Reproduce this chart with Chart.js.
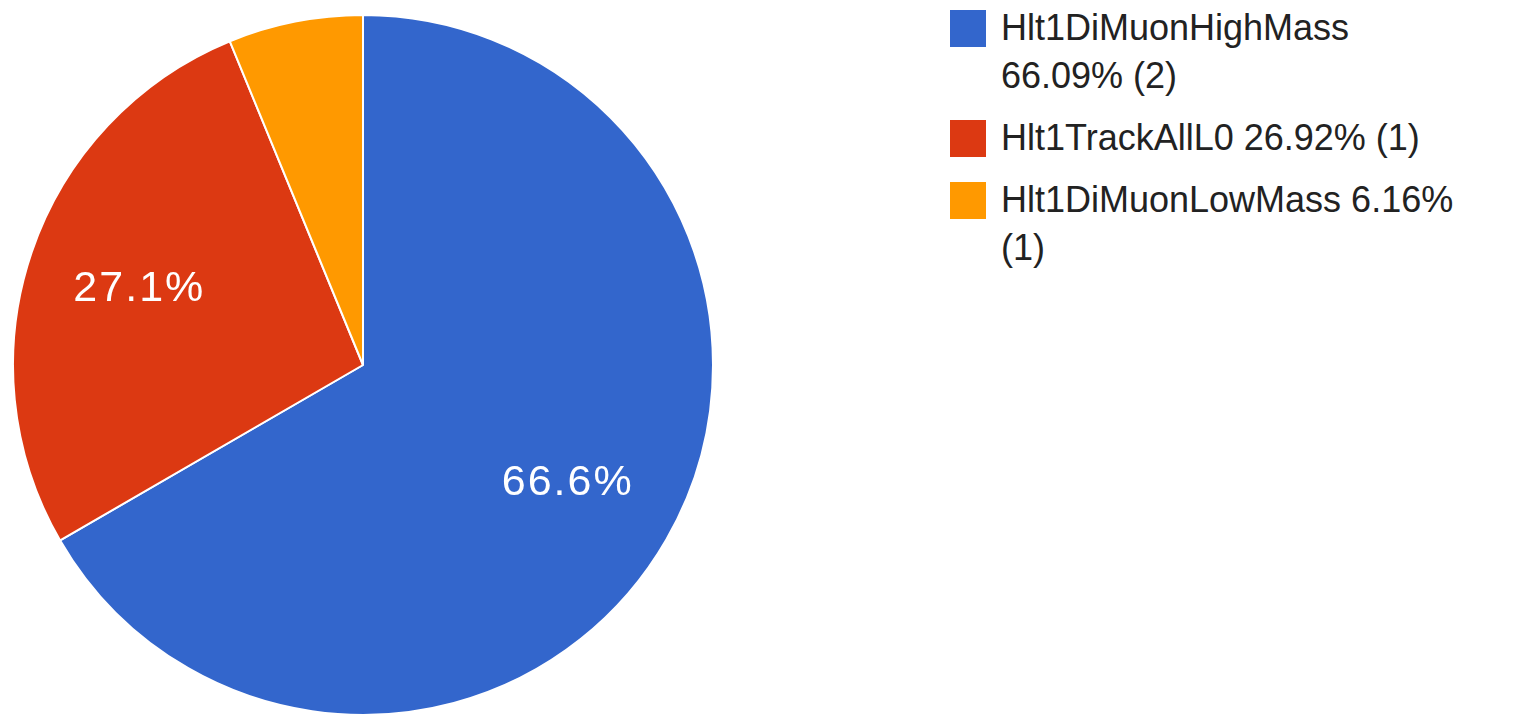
<!DOCTYPE html>
<html>
<head>
<meta charset="utf-8">
<script src="https://cdn.jsdelivr.net/npm/chart.js@4"></script>
<style>
  html, body { margin: 0; padding: 0; background: #fff; overflow: hidden; }
  body { width: 1515px; height: 714px; position: relative; font-family: Arial, "Liberation Sans", sans-serif; }
  #pieBox { position: absolute; left: 12px; top: 14px; width: 702px; height: 702px; }
  #legend { position: absolute; left: 950px; top: 4px; }
  .item { display: flex; align-items: flex-start; margin-bottom: 14px; }
  .swatch { width: 36px; height: 37px; margin-top: 6px; flex: none; }
  .txt { margin-left: 15px; width: 462px; font-size: 36px; line-height: 48px; color: #222; }
</style>
</head>
<body>
<div id="pieBox"><canvas id="pie"></canvas></div>
<div id="legend"></div>
<script>
const labels = ['Hlt1DiMuonHighMass', 'Hlt1TrackAllL0', 'Hlt1DiMuonLowMass'];
const shares = [66.09, 26.92, 6.16];
const counts = [2, 1, 1];
const colors = ['#3366CC', '#DC3912', '#FF9900'];

// legend built from the same arrays
const legendEl = document.getElementById('legend');
labels.forEach((lab, i) => {
  const row = document.createElement('div');
  row.className = 'item';
  row.innerHTML = '<div class="swatch" style="background:' + colors[i] + '"></div>' +
    '<div class="txt">' + lab + ' ' + shares[i].toFixed(2) + '% (' + counts[i] + ')</div>';
  legendEl.appendChild(row);
});

// percent labels inside slices
const sliceLabels = {
  id: 'sliceLabels',
  afterDatasetsDraw(chart) {
    const ctx = chart.ctx;
    const meta = chart.getDatasetMeta(0);
    const data = chart.data.datasets[0].data;
    const total = data.reduce((a, b) => a + b, 0);
    ctx.save();
    ctx.fillStyle = '#fff';
    ctx.font = '43px Arial, "Liberation Sans", sans-serif';
    ctx.letterSpacing = '2px';
    ctx.textAlign = 'center';
    ctx.textBaseline = 'middle';
    meta.data.forEach((arc, i) => {
      const pct = data[i] / total * 100;
      if (pct < 10) return;
      const mid = (arc.startAngle + arc.endAngle) / 2;
      const r = arc.outerRadius * 0.675;
      ctx.fillText(pct.toFixed(1) + '%', arc.x + Math.cos(mid) * r, arc.y + Math.sin(mid) * r);
    });
    ctx.restore();
  }
};

new Chart(document.getElementById('pie').getContext('2d'), {
  type: 'pie',
  data: {
    labels: labels,
    datasets: [{
      data: shares,
      backgroundColor: colors,
      borderColor: '#fff',
      borderWidth: 2
    }]
  },
  options: {
    responsive: true,
    maintainAspectRatio: false,
    animation: false,
    layout: { padding: 0 },
    plugins: {
      legend: { display: false },
      tooltip: { enabled: false }
    }
  },
  plugins: [sliceLabels]
});
</script>
</body>
</html>
